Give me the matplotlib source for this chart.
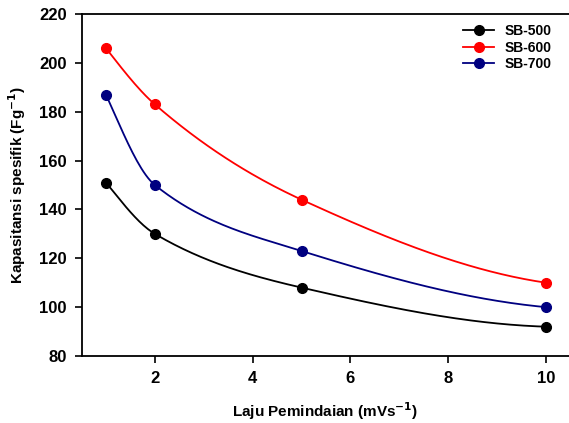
import matplotlib
matplotlib.use("Agg")
import matplotlib.pyplot as plt
import numpy as np

plt.rcParams['font.family'] = ['Liberation Sans', 'DejaVu Sans']
plt.rcParams['font.weight'] = 'bold'

scan_rate = [1, 2, 5, 10]
sb500 = [151, 130, 108, 92]
sb600 = [206, 183, 144, 110]
sb700 = [187, 150, 123, 100]

labels = ['SB-500', 'SB-600', 'SB-700']
colors = ['#000000', '#ff0000', '#000080']


def pchip(x, y, n=200):
    # monotone cubic, only used to draw the smooth connecting line
    x = np.asarray(x, float)
    y = np.asarray(y, float)
    h = np.diff(x)
    d = np.diff(y) / h
    m = np.zeros_like(y)
    for i in range(1, len(x) - 1):
        if d[i - 1] * d[i] > 0:
            w1 = 2 * h[i] + h[i - 1]
            w2 = h[i] + 2 * h[i - 1]
            m[i] = (w1 + w2) / (w1 / d[i - 1] + w2 / d[i])
    m[0] = ((2 * h[0] + h[1]) * d[0] - h[0] * d[1]) / (h[0] + h[1])
    if np.sign(m[0]) != np.sign(d[0]):
        m[0] = 0
    m[-1] = ((2 * h[-1] + h[-2]) * d[-1] - h[-1] * d[-2]) / (h[-1] + h[-2])
    if np.sign(m[-1]) != np.sign(d[-1]):
        m[-1] = 0
    xs = np.linspace(x[0], x[-1], n)
    idx = np.clip(np.searchsorted(x, xs) - 1, 0, len(x) - 2)
    hh = h[idx]
    t = (xs - x[idx]) / hh
    h00 = 2 * t ** 3 - 3 * t ** 2 + 1
    h10 = t ** 3 - 2 * t ** 2 + t
    h01 = -2 * t ** 3 + 3 * t ** 2
    h11 = t ** 3 - t ** 2
    ys = h00 * y[idx] + h10 * hh * m[idx] + h01 * y[idx + 1] + h11 * hh * m[idx + 1]
    return xs, ys


fig = plt.figure(figsize=(5.69, 4.23), dpi=100)
ax = fig.add_axes([82 / 569, 67 / 423, 487 / 569, 342 / 423])

for y, c, lab in zip([sb500, sb600, sb700], colors, labels):
    xs, ys = pchip(scan_rate, y)
    ax.plot(xs, ys, color=c, lw=1.3)
    ax.plot(scan_rate, y, 'o', color=c, ms=7)
    ax.plot([], [], '-o', color=c, lw=1.3, ms=7, label=lab)

ax.set_xlim(0.51, 10.47)
ax.set_ylim(80, 220)
ax.set_xticks([2, 4, 6, 8, 10])
ax.set_yticks(range(80, 221, 20))
ax.spines['right'].set_visible(False)
for s in ['left', 'bottom', 'top']:
    ax.spines[s].set_linewidth(1.3)
ax.tick_params(direction='out', length=5, width=1.2, labelsize=12, pad=6)

ax.set_xlabel('Laju Pemindaian (mVs$^{\\mathbf{-1}}$)', fontsize=11, fontweight='bold', labelpad=10)
ax.set_ylabel('Kapasitansi spesifik (Fg$^{\\mathbf{-1}}$)', fontsize=11, fontweight='bold', labelpad=8)

ax.legend(loc='upper right', frameon=False, fontsize=10, handlelength=2.2,
          bbox_to_anchor=(0.985, 1.0), labelspacing=0.2, borderaxespad=0.3)

fig.savefig('out.png', dpi=100)
